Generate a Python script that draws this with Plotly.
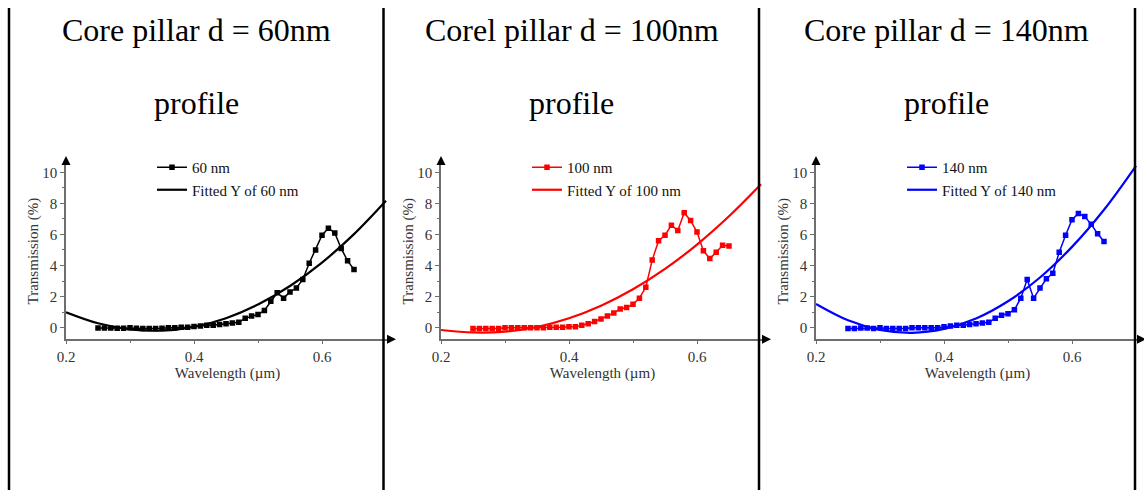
import plotly.graph_objects as go

# Measured transmission spectra, wavelength in micrometres
wavelength = [0.25, 0.26, 0.27, 0.28, 0.29, 0.30, 0.31, 0.32, 0.33, 0.34, 0.35,
              0.36, 0.37, 0.38, 0.39, 0.40, 0.41, 0.42, 0.43, 0.44, 0.45, 0.46,
              0.47, 0.48, 0.49, 0.50, 0.51, 0.52, 0.53, 0.54, 0.55, 0.56, 0.57,
              0.58, 0.59, 0.60, 0.61, 0.62, 0.63, 0.64, 0.65]

trans_60 = [-0.03, -0.03, -0.03, -0.04, -0.04, 0.0, -0.04, -0.05, -0.05, -0.05, -0.04,
            0.0, 0.0, 0.02, 0.03, 0.08, 0.1, 0.15, 0.15, 0.2, 0.25, 0.3,
            0.35, 0.6, 0.75, 0.85, 1.1, 1.7, 2.25, 1.9, 2.3, 2.55, 3.1,
            4.15, 5.0, 5.95, 6.4, 6.1, 5.1, 4.3, 3.75]

trans_100 = [-0.05, -0.05, -0.05, -0.05, -0.05, 0.0, 0.0, 0.0, 0.0, 0.0, 0.0,
             0.0, 0.02, 0.02, 0.03, 0.05, 0.05, 0.15, 0.25, 0.4, 0.55, 0.75,
             0.95, 1.2, 1.3, 1.5, 1.9, 2.6, 4.35, 5.6, 5.95, 6.6, 6.25,
             7.4, 6.9, 6.15, 4.95, 4.45, 4.85, 5.3, 5.25]

trans_140 = [-0.05, -0.05, -0.03, -0.03, -0.05, 0.0, -0.05, -0.05, -0.05, -0.05, 0.0,
             0.0, 0.0, 0.0, 0.0, 0.05, 0.1, 0.15, 0.15, 0.2, 0.25, 0.3,
             0.35, 0.6, 0.8, 0.9, 1.15, 1.9, 3.1, 1.9, 2.55, 3.15, 3.5,
             4.85, 5.95, 6.95, 7.35, 7.15, 6.65, 6.05, 5.55]

# Fitted (quadratic) curves sampled on a coarse wavelength grid
fit_wavelength = [0.20, 0.25, 0.30, 0.35, 0.40, 0.45, 0.50, 0.55, 0.60, 0.65, 0.70]
fit_60 = [0.99, 0.28, -0.11, -0.19, 0.05, 0.61, 1.49, 2.68, 4.19, 6.02, 8.17]
fit_100 = [-0.15, -0.31, -0.26, 0.04, 0.60, 1.41, 2.47, 3.78, 5.35, 7.17, 9.23]
fit_140 = [1.52, 0.47, -0.14, -0.33, -0.08, 0.59, 1.70, 3.23, 5.20, 7.59, 10.42]

titles = ["Core pillar d = 60nm", "Corel pillar d = 100nm", "Core pillar d = 140nm"]
series_names = ["60 nm", "100 nm", "140 nm"]
fit_names = ["Fitted Y of 60 nm", "Fitted Y of 100 nm", "Fitted Y of 140 nm"]
colors = ["#000000", "#ff0000", "#0000ff"]
measured = [trans_60, trans_100, trans_140]
fitted = [fit_60, fit_100, fit_140]

W, H = 1144, 490
SERIF = "Liberation Serif"
AXIS_GRAY = "#6e6e6e"

PANEL_STEP = 375          # horizontal spacing between panels (px)
X0_PX = 66                # left end of the first x axis (px)
X_LEN_PX = 323            # x-axis length (px)
Y_BOT_PX = 339.3          # x-axis vertical position (px from top)
Y_TOP_PX = 163            # top of the y axis (px from top)
X_RANGE = [0.2, 0.2 + X_LEN_PX / 640]
Y_RANGE = [-0.75, 10.6]

fig = go.Figure()

for i in range(3):
    n = "" if i == 0 else str(i + 1)
    xa, ya = "x" + n, "y" + n
    leg = "legend" + n
    fig.add_trace(go.Scatter(
        x=wavelength, y=measured[i], name=series_names[i], mode="lines+markers",
        line=dict(color=colors[i], width=1.5),
        marker=dict(symbol="square", size=5.5, color=colors[i]),
        xaxis=xa, yaxis=ya, legend=leg))
    fig.add_trace(go.Scatter(
        x=fit_wavelength, y=fitted[i], name=fit_names[i], mode="lines",
        line=dict(color=colors[i], width=2.2, shape="spline", smoothing=1.0),
        xaxis=xa, yaxis=ya, legend=leg))

layout = dict(
    width=W, height=H,
    margin=dict(l=0, r=0, t=0, b=0, pad=0),
    paper_bgcolor="white", plot_bgcolor="white",
    font=dict(family=SERIF, color="#222222"),
    showlegend=True,
)

annotations = []
shapes = []

for i in range(3):
    n = "" if i == 0 else str(i + 1)
    left = X0_PX + i * PANEL_STEP
    dom_x = [left / W, (left + X_LEN_PX) / W]
    dom_y = [1 - Y_BOT_PX / H, 1 - Y_TOP_PX / H]
    layout["xaxis" + n] = dict(
        domain=dom_x, range=X_RANGE, anchor="y" + n, automargin=False,
        showgrid=False, zeroline=False, showline=True,
        linecolor=AXIS_GRAY, linewidth=1.5,
        tickvals=[0.2, 0.4, 0.6], ticktext=["0.2", "0.4", "0.6"],
        ticks="outside", ticklen=3, tickcolor=AXIS_GRAY, tickwidth=1,
        minor=dict(tickvals=[0.3, 0.5], ticks="outside", ticklen=2,
                   tickcolor=AXIS_GRAY),
        tickfont=dict(family=SERIF, size=15, color="#333333"),
        title=dict(text="Wavelength (µm)", standoff=0,
                   font=dict(family=SERIF, size=15, color="#333333")),
    )
    layout["yaxis" + n] = dict(
        domain=dom_y, range=Y_RANGE, anchor="x" + n, automargin=False,
        showgrid=False, zeroline=False, showline=True,
        linecolor=AXIS_GRAY, linewidth=1.5,
        tickvals=[0, 2, 4, 6, 8, 10],
        ticks="outside", ticklen=4, tickcolor=AXIS_GRAY, tickwidth=1,
        minor=dict(tickvals=[1, 3, 5, 7, 9], ticks="outside", ticklen=2,
                   tickcolor=AXIS_GRAY),
        tickfont=dict(family=SERIF, size=15, color="#333333"),
        title=dict(text="Transmission (%)", standoff=0,
                   font=dict(family=SERIF, size=15, color="#333333")),
    )
    layout["legend" + n] = dict(
        x=(left + 86) / W, y=1 - 151 / H, xanchor="left", yanchor="top",
        bgcolor="rgba(0,0,0,0)", borderwidth=0,
        font=dict(family=SERIF, size=15, color="#111111"),
        tracegroupgap=0, itemwidth=30,
    )
    # Panel titles
    cx = (left + 130.5) / W
    annotations.append(dict(text=titles[i], x=cx, y=1 - 30 / H, xref="paper", yref="paper",
                            showarrow=False, xanchor="center", yanchor="middle",
                            font=dict(family=SERIF, size=32, color="#000000")))
    annotations.append(dict(text="profile", x=cx, y=1 - 103 / H, xref="paper", yref="paper",
                            showarrow=False, xanchor="center", yanchor="middle",
                            font=dict(family=SERIF, size=32, color="#000000")))
    # Axis arrowheads
    annotations.append(dict(text="", x=1 + 7 / X_LEN_PX, y=0,
                            xref="x" + n + " domain", yref="y" + n + " domain",
                            ax=-8, ay=0, axref="pixel", ayref="pixel",
                            showarrow=True, arrowhead=2, arrowsize=1.2, arrowwidth=1.5,
                            arrowcolor="#000000"))
    annotations.append(dict(text="", x=0, y=1 + 7 / (Y_BOT_PX - Y_TOP_PX),
                            xref="x" + n + " domain", yref="y" + n + " domain",
                            ax=0, ay=8, axref="pixel", ayref="pixel",
                            showarrow=True, arrowhead=2, arrowsize=1.2, arrowwidth=1.5,
                            arrowcolor="#000000"))

# Vertical separators between panels
for px in [9, 383.5, 759, 1135]:
    shapes.append(dict(type="line", xref="paper", yref="paper",
                       x0=px / W, x1=px / W, y0=0, y1=1 - 8 / H,
                       line=dict(color="#000000", width=2.5)))

layout["annotations"] = annotations
layout["shapes"] = shapes
fig.update_layout(**layout)

fig.write_html("out.html")
